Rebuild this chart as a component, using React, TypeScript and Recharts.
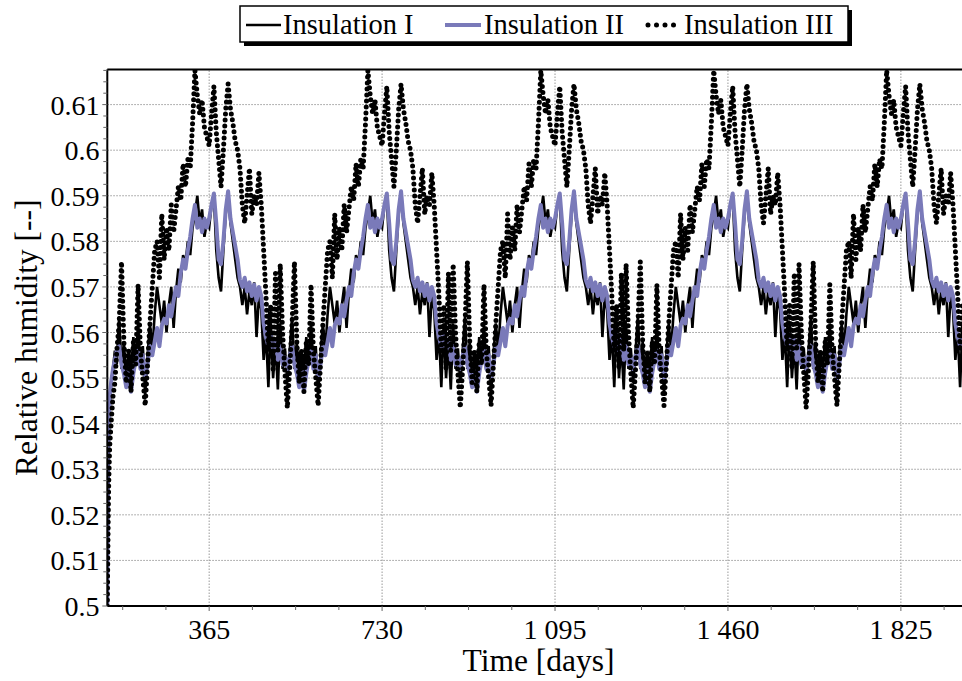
import React from 'react';
import { LineChart, Line, XAxis, YAxis, ReferenceLine } from 'recharts';

// ---- data ----
// initial transient (days)
const startDays = [150, 151, 152, 153, 155, 158, 162, 166, 170];
const startI = [0.5, 0.515, 0.53, 0.537, 0.543, 0.548, 0.552, 0.556, 0.553];
const startII = [0.5, 0.52, 0.535, 0.54, 0.546, 0.549, 0.552, 0.554, 0.556];
const startIII = [0.5, 0.51, 0.52, 0.527, 0.535, 0.54, 0.546, 0.549, 0.556];

// yearly cycle, one value every 5 days of the year (day 0, 5, ..., 360); each year repeats it
const yearI = [
  0.583, 0.588, 0.590, 0.578, 0.572, 0.569, 0.578, 0.586, 0.590, 0.584,
  0.580, 0.576, 0.572, 0.570, 0.566, 0.570, 0.564, 0.569, 0.566, 0.571,
  0.559, 0.568, 0.565, 0.554, 0.560, 0.548, 0.562, 0.550, 0.558, 0.5475,
  0.562, 0.552, 0.5565, 0.549, 0.556, 0.5635, 0.552, 0.558, 0.549, 0.556,
  0.551, 0.559, 0.553, 0.562, 0.552, 0.557, 0.5465, 0.555, 0.562, 0.556,
  0.564, 0.570, 0.566, 0.562, 0.567, 0.560, 0.566, 0.570, 0.561, 0.569,
  0.574, 0.571, 0.577, 0.575, 0.580, 0.577, 0.583, 0.586, 0.590, 0.584,
  0.587, 0.581, 0.584,
];
const yearII = [
  0.585, 0.588, 0.5905, 0.584, 0.576, 0.575, 0.580, 0.587, 0.591, 0.585,
  0.582, 0.579, 0.576, 0.5715, 0.570, 0.572, 0.569, 0.571, 0.568, 0.5705,
  0.567, 0.570, 0.568, 0.562, 0.559, 0.557, 0.5595, 0.556, 0.5585, 0.554,
  0.557, 0.553, 0.5545, 0.552, 0.555, 0.557, 0.553, 0.551, 0.548, 0.552,
  0.547, 0.551, 0.554, 0.556, 0.552, 0.555, 0.550, 0.553, 0.557, 0.555,
  0.558, 0.561, 0.557, 0.5615, 0.563, 0.562, 0.566, 0.5635, 0.567, 0.570,
  0.568, 0.573, 0.576, 0.574, 0.578, 0.581, 0.585, 0.588, 0.583, 0.585,
  0.582, 0.585, 0.583,
];
const yearIII = [
  0.601, 0.608, 0.614, 0.604, 0.598, 0.592, 0.600, 0.609, 0.6145, 0.609,
  0.606, 0.602, 0.600, 0.596, 0.588, 0.584, 0.590, 0.596, 0.586, 0.590,
  0.588, 0.595, 0.588, 0.578, 0.568, 0.556, 0.566, 0.552, 0.573, 0.556,
  0.575, 0.560, 0.551, 0.5435, 0.552, 0.562, 0.5755, 0.558, 0.549, 0.556,
  0.547, 0.558, 0.553, 0.5705, 0.556, 0.550, 0.544, 0.553, 0.562, 0.570,
  0.578, 0.580, 0.572, 0.586, 0.576, 0.583, 0.578, 0.588, 0.582, 0.587,
  0.592, 0.589, 0.597, 0.592, 0.598, 0.596, 0.606, 0.6175, 0.612, 0.608,
  0.611, 0.605, 0.603,
];

const xMajor = [365, 730, 1095, 1460, 1825];
const yMajor = [0.5, 0.51, 0.52, 0.53, 0.54, 0.55, 0.56, 0.57, 0.58, 0.59, 0.6, 0.61];
const seriesNames = ['Insulation I', 'Insulation II', 'Insulation III'];

const X_MIN = 150;
const X_MAX = 1954;
const Y_MIN = 0.5;
const Y_MAX = 0.6177;

// ---- table built from the arrays ----
const rows: { day: number; i: number; ii: number; iii: number }[] = [];
startDays.forEach((d, k) => rows.push({ day: d, i: startI[k], ii: startII[k], iii: startIII[k] }));
for (let d = 175; d <= X_MAX + 5; d += 5) {
  const k = (d % 365) / 5;
  rows.push({ day: d, i: yearI[k], ii: yearII[k], iii: yearIII[k] });
}

const yTicks: number[] = [];
yMajor.forEach((m) => {
  [0, 0.0025, 0.005, 0.0075].forEach((s) => {
    const v = Math.round((m + s) * 10000) / 10000;
    if (v <= Y_MAX) yTicks.push(v);
  });
});
const xTicks: number[] = [];
xMajor.forEach((m) => {
  [-182.5, -91.25, 0, 91.25, 182.5, 273.75].forEach((s) => {
    const v = m + s;
    if (v > X_MIN && v < X_MAX && !xTicks.includes(v)) xTicks.push(v);
  });
});
xTicks.sort((a, b) => a - b);

const FONT = "'Liberation Serif', 'Times New Roman', Times, 'DejaVu Serif', serif";
const TXT = { fontFamily: FONT } as React.CSSProperties;
const PLOT_LEFT = 107.3;
const PLOT_BOTTOM = 606;
const PURPLE = '#7a7ab9';

const isYMajor = (v: number) => yMajor.some((m) => Math.abs(m - v) < 1e-6);
const isXMajor = (v: number) => xMajor.includes(v);
const fmtX = (v: number) => String(v).replace(/\B(?=(\d{3})+(?!\d))/g, ' ');
const fmtY = (v: number) => String(Number(v.toFixed(2)));

const YTick = (props: any) => {
  const { y, payload } = props;
  const v = payload.value;
  const major = isYMajor(v);
  return (
    <g>
      <line x1={PLOT_LEFT - (major ? 5 : 4)} x2={PLOT_LEFT} y1={y} y2={y} stroke="#666" strokeWidth={1} />
      {major && (
        <text x={99.5} y={y} dy="0.36em" textAnchor="end" style={TXT} fontSize={28} fill="#000">
          {fmtY(v)}
        </text>
      )}
    </g>
  );
};

const XTick = (props: any) => {
  const { x, payload } = props;
  const v = payload.value;
  const major = isXMajor(v);
  return (
    <g>
      <line x1={x} x2={x} y1={PLOT_BOTTOM} y2={PLOT_BOTTOM + (major ? 5 : 4)} stroke="#666" strokeWidth={1} />
      {major && (
        <text x={x} y={639} textAnchor="middle" style={TXT} fontSize={28} fill="#000">
          {fmtX(v)}
        </text>
      )}
    </g>
  );
};

export default function App() {
  return (
    <div style={{ position: 'relative', width: 962, height: 681, overflow: 'hidden', background: '#fff', fontFamily: FONT }}>
      <style>{"body{margin:0} svg text{font-family:'Liberation Serif','Times New Roman',Times,'DejaVu Serif',serif !important}"}</style>
      <LineChart width={962} height={681} data={rows} margin={{ top: 69.5, right: 0, bottom: 35, left: 7.3 }}>
        <XAxis
          dataKey="day"
          type="number"
          domain={[X_MIN, X_MAX]}
          allowDataOverflow
          ticks={xTicks}
          interval={0}
          height={40}
          tickLine={false}
          axisLine={{ stroke: '#000', strokeWidth: 2 }}
          tick={<XTick />}
        />
        <YAxis
          type="number"
          domain={[Y_MIN, Y_MAX]}
          allowDataOverflow
          ticks={yTicks}
          interval={0}
          width={100}
          tickLine={false}
          axisLine={{ stroke: '#000', strokeWidth: 2 }}
          tick={<YTick />}
        />
        {yMajor.slice(1).map((v) => (
          <ReferenceLine key={'gy' + v} y={v} stroke="#999" strokeWidth={1} strokeDasharray="1.5 1.5" />
        ))}
        {xMajor.map((v) => (
          <ReferenceLine key={'gx' + v} x={v} stroke="#999" strokeWidth={1} strokeDasharray="1.5 1.5" />
        ))}
        <ReferenceLine y={Y_MAX} stroke="#000" strokeWidth={2} />
        <Line dataKey="i" name={seriesNames[0]} stroke="#000" strokeWidth={2.6} dot={false} isAnimationActive={false} type="linear" />
        <Line dataKey="ii" name={seriesNames[1]} stroke={PURPLE} strokeWidth={4} dot={false} isAnimationActive={false} type="linear" strokeLinejoin="round" />
        <Line
          dataKey="iii"
          name={seriesNames[2]}
          stroke="#000"
          strokeWidth={5}
          strokeDasharray="0 6"
          strokeLinecap="round"
          strokeLinejoin="round"
          dot={false}
          isAnimationActive={false}
          type="linear"
        />
      </LineChart>
      <svg width={962} height={681} style={{ position: 'absolute', left: 0, top: 0, pointerEvents: 'none' }}>
        {/* legend */}
        <rect x={244} y={10} width={608} height={36} fill="#000" />
        <rect x={240} y={6} width={608} height={36} fill="#fff" stroke="#000" strokeWidth={1.5} />
        <line x1={246} x2={281} y1={25} y2={25} stroke="#000" strokeWidth={2.6} />
        <text x={283} y={34} style={TXT} fontSize={28.5} fill="#000">{seriesNames[0]}</text>
        <line x1={445} x2={481} y1={25} y2={25} stroke={PURPLE} strokeWidth={4} />
        <text x={484} y={34} style={TXT} fontSize={28.5} fill="#000">{seriesNames[1]}</text>
        <line x1={648} x2={680} y1={25} y2={25} stroke="#000" strokeWidth={5} strokeDasharray="0 8.5" strokeLinecap="round" />
        <text x={684} y={34} style={TXT} fontSize={28.5} fill="#000">{seriesNames[2]}</text>
        {/* axis titles */}
        <text x={538.5} y={671} textAnchor="middle" style={TXT} fontSize={31.5} fill="#000">Time [days]</text>
        <text x={-337.7} y={37} transform="rotate(-90)" textAnchor="middle" style={TXT} fontSize={31.5} fill="#000">
          Relative humidity [--]
        </text>
      </svg>
    </div>
  );
}
